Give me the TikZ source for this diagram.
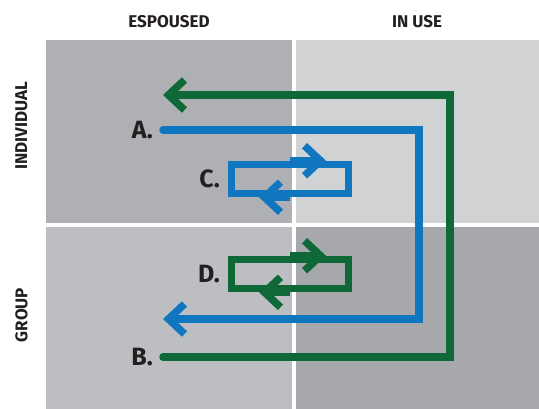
\documentclass[tikz,border=0pt]{standalone}
\usepackage{fontspec}
\setmainfont{Fira Sans}
\usepackage{xcolor}
\usetikzlibrary{arrows.meta,positioning,calc}

\definecolor{loopgreen}{HTML}{0F6838}
\definecolor{loopblue}{HTML}{1176C0}
\definecolor{inktext}{HTML}{231F20}
\definecolor{quadTL}{HTML}{AFB0B3}
\definecolor{quadTR}{HTML}{D1D2D4}
\definecolor{quadBL}{HTML}{BCBEC1}
\definecolor{quadBR}{HTML}{A7A8AB}

\begin{document}
\begin{tikzpicture}[
    x=1pt, y=-1pt,
    heading/.style={font=\fontsize{17}{17}\selectfont\bfseries, text=inktext, inner sep=0pt},
    letter/.style={font=\fontsize{25}{25}\selectfont\bfseries, text=inktext, inner sep=0pt, anchor=east},
    chev/.style={-{Straight Barb[length=16pt, width=30pt, line join=miter, line cap=butt]}},
    loopline/.style={line width=7.5pt, line join=miter},
    bluepath/.style={loopline, draw=loopblue, line cap=round, chev},
    greenpath/.style={loopline, draw=loopgreen, line cap=round, chev},
    loopbox/.style={rectangle, draw=#1, line width=7.5pt, minimum width=117pt, minimum height=29pt, inner sep=0pt},
]
\useasboundingbox (0,0) rectangle (539,409);

% quadrants
\fill[quadTL] (46,40) rectangle (292,223);
\fill[quadTR] (296,40) rectangle (539,223);
\fill[quadBL] (46,227) rectangle (292,409);
\fill[quadBR] (296,227) rectangle (539,409);

% axis labels
\node[heading] (espoused) at (169,22) {ESPOUSED};
\node[heading] (inuse) at (417,22) {IN USE};
\node[heading, rotate=90] (individual) at (21.5,126) {INDIVIDUAL};
\node[heading, rotate=90] (group) at (21.5,315) {GROUP};

% letters
\node[letter] (la) at (153,130) {A.};
\node[letter] (lb) at (153,357) {B.};
\node[letter] (lc) at (220,179) {C.};
\node[letter] (ld) at (220,274) {D.};

% small loops
\node[loopbox=loopblue] (cbox) at (290,179) {};
\node[loopbox=loopgreen] (dbox) at (290,274) {};
\draw[loopline, draw=loopblue, chev] (cbox.north) -- ([xshift=36pt]cbox.north);
\draw[loopline, draw=loopblue, chev] (cbox.south) -- ([xshift=-31pt]cbox.south);
\draw[loopline, draw=loopgreen, chev] (dbox.north) -- ([xshift=36pt]dbox.north);
\draw[loopline, draw=loopgreen, chev] (dbox.south) -- ([xshift=-31pt]dbox.south);

% big loops
\coordinate (aturn) at (419,319);
\coordinate (aend) at (163,319);
\coordinate (bturn) at (450,95);
\coordinate (bend) at (163,95);
\draw[bluepath] ([xshift=10pt]la.east) -| (aturn) -- (aend);
\draw[greenpath] ([xshift=10pt]lb.east) -| (bturn) -- (bend);
\end{tikzpicture}
\end{document}
